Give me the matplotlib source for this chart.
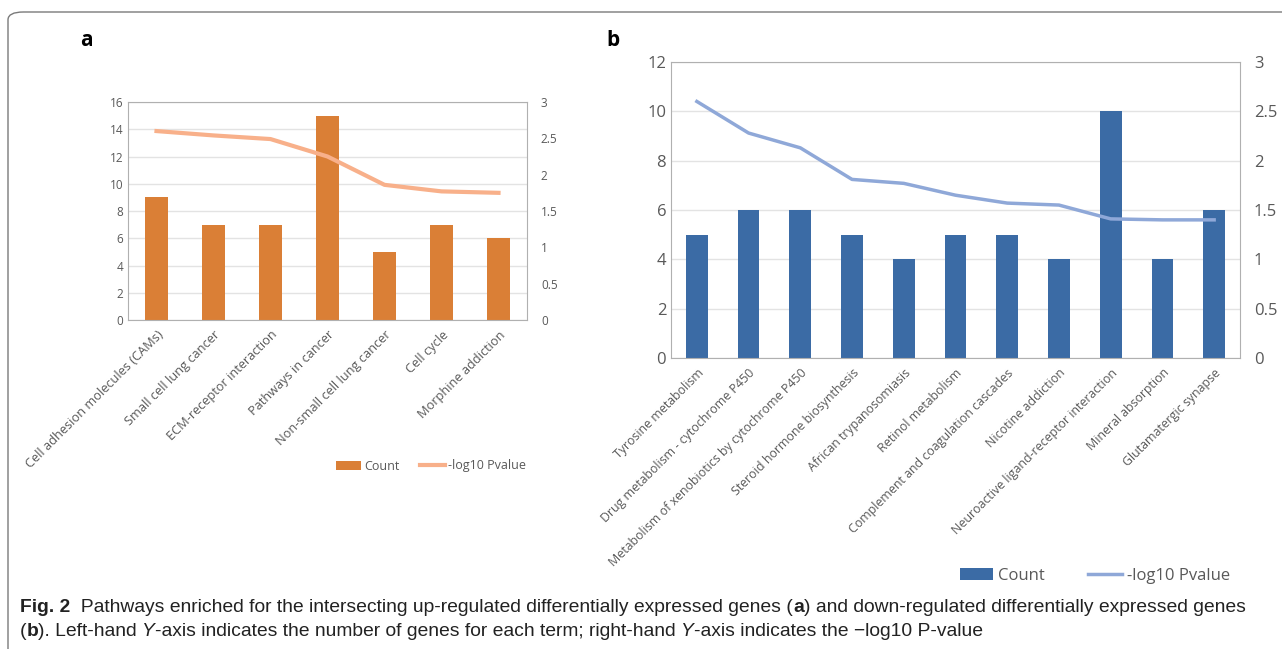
import numpy as np
import matplotlib
matplotlib.use("Agg")
import matplotlib.pyplot as plt
from matplotlib.patches import FancyBboxPatch

plt.rcParams['font.family'] = ['Open Sans', 'DejaVu Sans']

# panel a: up-regulated
terms_a = ["Cell adhesion molecules (CAMs)", "Small cell lung cancer", "ECM-receptor interaction",
           "Pathways in cancer", "Non-small cell lung cancer", "Cell cycle", "Morphine addiction"]
count_a = [9, 7, 7, 15, 5, 7, 6]
logp_a = [2.60, 2.54, 2.49, 2.25, 1.86, 1.77, 1.75]

# panel b: down-regulated
terms_b = ["Tyrosine metabolism", "Drug metabolism - cytochrome P450",
           "Metabolism of xenobiotics by cytochrome P450", "Steroid hormone biosynthesis",
           "African trypanosomiasis", "Retinol metabolism", "Complement and coagulation cascades",
           "Nicotine addiction", "Neuroactive ligand-receptor interaction", "Mineral absorption",
           "Glutamatergic synapse"]
count_b = [5, 6, 6, 5, 4, 5, 5, 4, 10, 4, 6]
logp_b = [2.60, 2.28, 2.13, 1.81, 1.77, 1.65, 1.57, 1.55, 1.41, 1.40, 1.40]

W, H = 1282, 649
fig = plt.figure(figsize=(W / 100, H / 100), dpi=100)

def px(x0, y0, x1, y1):
    return [x0 / W, 1 - y1 / H, (x1 - x0) / W, (y1 - y0) / H]

# rounded frame around the whole figure
frame = FancyBboxPatch((8 / W, -0.1), 1.2, 1 - 12 / H + 0.1, boxstyle="round,pad=0,rounding_size=0.012",
                       transform=fig.transFigure, fill=False, edgecolor="#7a7a7a", linewidth=1.0)
fig.patches.append(frame)

def panel(rect, terms, counts, logp, ymax, ystep, bcol, lcol, tsize, xsize, bw, lw):
    ax = fig.add_axes(rect)
    x = np.arange(len(terms))
    ax.bar(x, counts, width=bw, color=bcol, zorder=2, label="Count")
    ax.set_ylim(0, ymax)
    ax.set_yticks(np.arange(0, ymax + 0.1, ystep))
    ax.set_xlim(-0.5, len(terms) - 0.5)
    ax.set_xticks(x)
    ax.grid(axis="y", color="#e3e3e3", linewidth=1, zorder=0)
    ax.tick_params(length=0, labelcolor="#595959")
    ax.tick_params(axis="y", labelsize=tsize)
    ax.set_xticklabels(terms, rotation=45, ha="right", rotation_mode="anchor", fontsize=xsize, color="#595959")
    ax.tick_params(axis="x", pad=6)
    for s in ax.spines.values():
        s.set_color("#b0b0b0")
    ax2 = ax.twinx()
    ax2.plot(x, logp, color=lcol, linewidth=lw, zorder=3, label="-log10 Pvalue")
    ax2.set_ylim(0, 3)
    ax2.set_yticks([0, 0.5, 1, 1.5, 2, 2.5, 3])
    ax2.set_yticklabels(["0", "0.5", "1", "1.5", "2", "2.5", "3"])
    ax2.tick_params(length=0, labelsize=tsize, labelcolor="#595959", pad=10)
    for s in ax2.spines.values():
        s.set_visible(False)
    return ax, ax2

axa, axa2 = panel(px(128, 102, 527, 320), terms_a, count_a, logp_a, 16, 2,
                  "#da7f36", "#f8b08a", 8.5, 9.2, 0.41, 3)
axb, axb2 = panel(px(671, 62, 1240, 358), terms_b, count_b, logp_b, 12, 2,
                  "#3b6ba5", "#8fa8d8", 12, 8.9, 0.42, 2.5)

for ax, ax2, cx, cy, fs, cs in [(axa, axa2, 431, 466, 9, 1.6), (axb, axb2, 1095, 576, 12, 2.6)]:
    h1, l1 = ax.get_legend_handles_labels()
    h2, l2 = ax2.get_legend_handles_labels()
    fig.legend(h1 + h2, l1 + l2, loc="center", bbox_to_anchor=(cx / W, 1 - cy / H), ncol=2,
               frameon=False, fontsize=fs, labelcolor="#595959", handlelength=2.0, columnspacing=cs,
               handletextpad=0.3)

fig.text(80 / W, 1 - 40 / H, "a", fontsize=15, fontweight="bold", ha="left", va="center")
fig.text(606 / W, 1 - 40 / H, "b", fontsize=15, fontweight="bold", ha="left", va="center")

# caption with mixed styles, chained segment by segment
cap_font = ['Liberation Sans', 'DejaVu Sans']
line1 = [("Fig. 2", "bold", "normal"),
         ("  Pathways enriched for the intersecting up-regulated differentially expressed genes (", "normal", "normal"),
         ("a", "bold", "normal"),
         (") and down-regulated differentially expressed genes", "normal", "normal")]
line2 = [("(", "normal", "normal"), ("b", "bold", "normal"),
         ("). Left-hand ", "normal", "normal"), ("Y", "normal", "italic"),
         ("-axis indicates the number of genes for each term; right-hand ", "normal", "normal"),
         ("Y", "normal", "italic"), ("-axis indicates the \u2212log10 P-value", "normal", "normal")]

fig.canvas.draw()
renderer = fig.canvas.get_renderer()

def draw_line(segs, y, size):
    xpos = 20
    texts = []
    for s, wgt, sty in segs:
        t = fig.text(xpos / W, 1 - y / H, s, fontsize=size, fontweight=wgt, fontstyle=sty,
                     family=cap_font, ha="left", va="center", color="#222222")
        xpos += t.get_window_extent(renderer=renderer).width
        texts.append(t)
    return texts, xpos

# choose the caption size so the first line spans to about x=1250
probe, end = draw_line(line1, 608, 12)
for t in probe:
    t.remove()
cap_size = 12 * (1250 - 20) / (end - 20)
draw_line(line1, 608, cap_size)
draw_line(line2, 632, cap_size)

fig.savefig("out.png", dpi=100)
